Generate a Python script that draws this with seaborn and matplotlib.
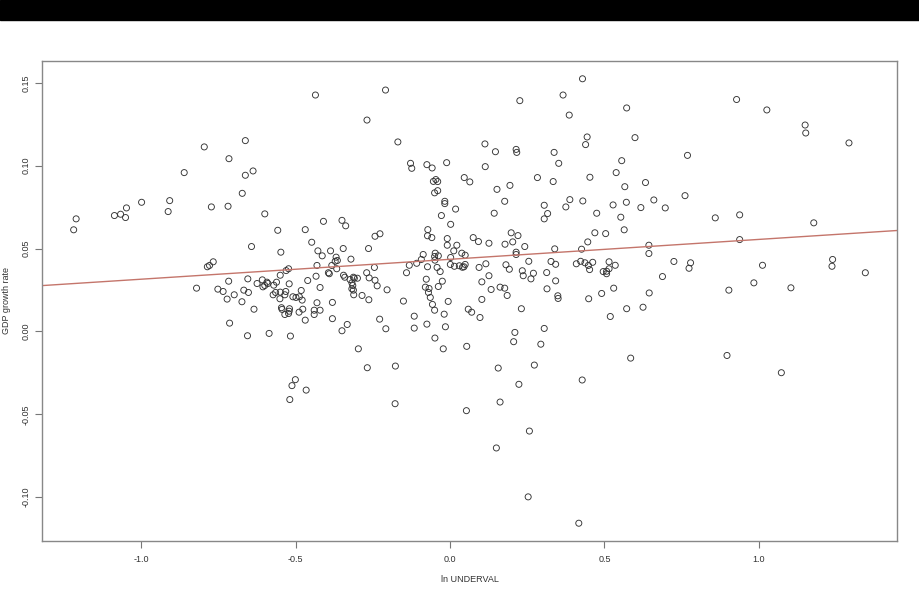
import numpy as np
import pandas as pd
import matplotlib
matplotlib.use("Agg")
import matplotlib.pyplot as plt
import seaborn as sns
from matplotlib.patches import Rectangle

# ln UNDERVAL / GDP growth rate
ln_underval = [
    -0.663, -0.796, -0.716, -0.663, -0.638, -0.861, -0.673, -0.999, -0.908, -1.048,
    -0.773, -0.719, -0.913, -1.087, -1.067, -1.051, -1.211, -1.219,
    -0.600, -0.410, -0.350, -0.338, -0.558, -0.469, -0.643, -0.548, -0.448, -0.428,
    -0.414, -0.387, -0.346, -0.264, -0.369, -0.365, -0.372, -0.321, -0.767, -0.779,
    -0.786, -0.431, -0.523, -0.531, -0.383, -0.367, -0.394, -0.391, -0.434, -0.550,
    -0.345, -0.341, -0.313, -0.310, -0.300, -0.324, -0.318, -0.315, -0.318, -0.313,
    -0.270, -0.262, -0.461, -0.655, -0.717, -0.608, -0.593, -0.590, -0.600, -0.606,
    -0.625, -0.562, -0.571, -0.521, -0.821, -0.752, -0.735, -0.668, -0.653, -0.699,
    -0.722, -0.674, -0.635, -0.573, -0.565, -0.550, -0.532, -0.535, -0.551, -0.509,
    -0.499, -0.488, -0.479, -0.482, -0.421, -0.431, -0.381, -0.312, -0.285, -0.263,
    -0.546, -0.544, -0.520, -0.521, -0.535, -0.523, -0.489, -0.477, -0.440, -0.421,
    -0.440, -0.469, -0.381, -0.333, -0.350, -0.714, -0.656, -0.586, -0.517, -0.297,
    -0.028, 0.018, 0.143, 0.316, 0.305, 0.002, -0.227, -0.243, -0.072, -0.073,
    -0.059, -0.009, -0.009, 0.022, 0.012, 0.075, 0.092, 0.126, 0.198, 0.220,
    0.178, 0.203, 0.242, 0.214, 0.214, 0.339, -0.087, -0.093, -0.048, -0.050,
    -0.038, -0.049, 0.038, 0.049, 0.002, -0.108, -0.132, -0.073, -0.042, -0.032,
    0.001, 0.014, 0.030, 0.040, 0.049, 0.045, 0.094, 0.116, 0.181, 0.192,
    0.255, 0.327, 0.342, 0.234, 0.237, 0.270, 0.262, 0.313, -0.245, -0.141,
    -0.243, -0.236, -0.204, -0.077, -0.025, -0.038, -0.080, -0.068, -0.070, -0.064,
    0.126, 0.103, 0.133, 0.162, 0.177, 0.185, 0.314, 0.342, 0.349, 0.350,
    -0.151, -0.006, 0.103, -0.057, -0.050, 0.059, 0.070, -0.019, 0.097, 0.231,
    -0.228, -0.116, -0.208, -0.116, -0.075, -0.015, 0.305, -0.049, -0.022, 0.054,
    0.210, 0.206, 0.294,
    -0.436, -0.209, -0.269, -0.169, 0.113, 0.114, -0.128, -0.124, -0.075, -0.058,
    -0.011, 0.046, 0.064, -0.054, -0.046, -0.040, -0.050, -0.040, -0.017, -0.017,
    0.429, 0.226, 0.366, 0.386, 0.572, 0.444, 0.439, 0.599, 0.147, 0.214,
    0.216, 0.337, 0.352, 0.769, 0.556, 0.538, 0.283, 0.334, 0.453, 0.194,
    0.152, 0.566, 0.633, 0.761, 0.177, 0.305, 0.388, 0.430, 0.375, 0.528,
    0.571, 0.660, 0.618, 0.697,
    0.475, 0.553, 0.564, 0.469, 0.504, 0.446, 0.426, 0.644, 0.644, 0.409,
    0.423, 0.437, 0.448, 0.452, 0.462, 0.515, 0.535, 0.515, 0.507, 0.496,
    0.507, 0.725, 0.779, 0.774, 0.688, 0.530, 0.491, 0.645, 0.449, 0.572,
    0.625, 0.519,
    0.928, 1.026, 1.150, 1.152, 1.292, 0.859, 0.938, 1.178, 0.938, 1.012,
    1.239, 1.237, 1.345, 0.984, 1.104, 0.903, 0.897, 1.073,
    -0.268, -0.177, -0.501, -0.512, -0.466, -0.519, -0.178, 0.053, 0.156, 0.273,
    0.223, 0.428, 0.585, 0.162, 0.257, 0.150, 0.253, 0.417,
]
gdp_growth = [
    0.1151, 0.1113, 0.1042, 0.0942, 0.0968, 0.0958, 0.0833, 0.0779, 0.0789, 0.0745,
    0.0751, 0.0755, 0.0723, 0.0699, 0.0707, 0.0687, 0.0679, 0.0613,
    0.0709, 0.0664, 0.0670, 0.0637, 0.0610, 0.0614, 0.0512, 0.0478, 0.0538, 0.0486,
    0.0456, 0.0486, 0.0500, 0.0500, 0.0448, 0.0428, 0.0423, 0.0436, 0.0420, 0.0398,
    0.0390, 0.0398, 0.0378, 0.0367, 0.0398, 0.0378, 0.0354, 0.0348, 0.0333, 0.0339,
    0.0339, 0.0327, 0.0327, 0.0321, 0.0321, 0.0313, 0.0293, 0.0277, 0.0257, 0.0249,
    0.0354, 0.0323, 0.0307, 0.0317, 0.0303, 0.0311, 0.0297, 0.0289, 0.0277, 0.0269,
    0.0289, 0.0297, 0.0279, 0.0287, 0.0261, 0.0255, 0.0241, 0.0249, 0.0235, 0.0221,
    0.0195, 0.0179, 0.0134, 0.0221, 0.0235, 0.0237, 0.0241, 0.0221, 0.0197, 0.0209,
    0.0205, 0.0209, 0.0189, 0.0247, 0.0265, 0.0173, 0.0175, 0.0221, 0.0217, 0.0191,
    0.0143, 0.0133, 0.0137, 0.0122, 0.0102, 0.0108, 0.0116, 0.0134, 0.0128, 0.0128,
    0.0102, 0.0068, 0.0077, 0.0042, 0.0004, 0.0050, -0.0026, -0.0012, -0.0028, -0.0105,
    0.0699, 0.0738, 0.0713, 0.0711, 0.0679, 0.0646, 0.0589, 0.0574, 0.0614, 0.0577,
    0.0566, 0.0560, 0.0520, 0.0520, 0.0486, 0.0566, 0.0542, 0.0532, 0.0595, 0.0578,
    0.0526, 0.0540, 0.0512, 0.0478, 0.0464, 0.0498, 0.0464, 0.0434, 0.0472, 0.0452,
    0.0456, 0.0430, 0.0472, 0.0460, 0.0446, 0.0411, 0.0399, 0.0390, 0.0386, 0.0361,
    0.0404, 0.0393, 0.0396, 0.0387, 0.0404, 0.0390, 0.0386, 0.0408, 0.0402, 0.0375,
    0.0423, 0.0422, 0.0405, 0.0366, 0.0336, 0.0351, 0.0317, 0.0355, 0.0386, 0.0354,
    0.0309, 0.0275, 0.0251, 0.0315, 0.0303, 0.0271, 0.0267, 0.0259, 0.0235, 0.0205,
    0.0336, 0.0299, 0.0253, 0.0267, 0.0261, 0.0217, 0.0257, 0.0305, 0.0215, 0.0199,
    0.0183, 0.0181, 0.0193, 0.0163, 0.0128, 0.0134, 0.0116, 0.0104, 0.0084, 0.0137,
    0.0074, 0.0092, 0.0016, 0.0020, 0.0044, 0.0028, 0.0018, -0.0040, -0.0105, -0.0090,
    -0.0006, -0.0062, -0.0077,
    0.1426, 0.1456, 0.1275, 0.1143, 0.1131, 0.0994, 0.1014, 0.0984, 0.1006, 0.0986,
    0.1018, 0.0928, 0.0902, 0.0905, 0.0916, 0.0904, 0.0836, 0.0849, 0.0785, 0.0771,
    0.1524, 0.1392, 0.1426, 0.1305, 0.1348, 0.1173, 0.1127, 0.1169, 0.1084, 0.1098,
    0.1080, 0.1080, 0.1014, 0.1062, 0.1030, 0.0958, 0.0928, 0.0904, 0.0930, 0.0881,
    0.0857, 0.0873, 0.0898, 0.0819, 0.0785, 0.0761, 0.0795, 0.0787, 0.0751, 0.0763,
    0.0779, 0.0793, 0.0747, 0.0745,
    0.0713, 0.0689, 0.0613, 0.0595, 0.0590, 0.0540, 0.0496, 0.0520, 0.0470, 0.0408,
    0.0423, 0.0414, 0.0398, 0.0373, 0.0417, 0.0420, 0.0399, 0.0378, 0.0363, 0.0361,
    0.0348, 0.0422, 0.0414, 0.0381, 0.0331, 0.0261, 0.0229, 0.0232, 0.0197, 0.0137,
    0.0146, 0.0090,
    0.1399, 0.1336, 0.1245, 0.1197, 0.1137, 0.0685, 0.0703, 0.0655, 0.0554, 0.0399,
    0.0434, 0.0393, 0.0354, 0.0293, 0.0263, 0.0249, -0.0145, -0.0249,
    -0.0219, -0.0209, -0.0291, -0.0327, -0.0354, -0.0411, -0.0436, -0.0478, -0.0221, -0.0203,
    -0.0319, -0.0293, -0.0161, -0.0426, -0.0601, -0.0703, -0.0998, -0.1157,
]

# fitted line (abline)
fit_intercept = 0.0435
fit_slope = 0.012

xticks = [-1.0, -0.5, 0.0, 0.5, 1.0]
yticks = [-0.10, -0.05, 0.00, 0.05, 0.10, 0.15]

df = pd.DataFrame({"ln_underval": ln_underval, "gdp_growth": gdp_growth})

sns.set_style("white")
plt.rcParams["font.family"] = ["Liberation Sans", "DejaVu Sans"]

fig = plt.figure(figsize=(9.19, 5.94), dpi=100)
fig.add_artist(Rectangle((0, 1 - 20 / 594), 1, 20 / 594, transform=fig.transFigure,
                         color="black", zorder=0))
ax = fig.add_axes([42 / 919, 53 / 594, 855 / 919, 480 / 594])

sns.scatterplot(data=df, x="ln_underval", y="gdp_growth", ax=ax,
                marker="o", s=19, facecolor="none", edgecolor="#333333",
                linewidth=0.65, legend=False)

# R-style 4% padding around the data
xr = df["ln_underval"].max() - df["ln_underval"].min()
yr = df["gdp_growth"].max() - df["gdp_growth"].min()
ax.set_xlim(df["ln_underval"].min() - 0.04 * xr, df["ln_underval"].max() + 0.04 * xr)
ax.set_ylim(df["gdp_growth"].min() - 0.04 * yr, df["gdp_growth"].max() + 0.04 * yr)

ax.axline((0, fit_intercept), slope=fit_slope, color="#c4756b", lw=1.0, zorder=1)

ax.set_xticks(xticks)
ax.set_xticklabels([f"{v:.1f}" for v in xticks])
ax.set_yticks(yticks)
ax.set_yticklabels([f"{v:.2f}" for v in yticks], rotation=90, va="center")
ax.tick_params(axis="both", direction="out", length=5, width=0.8, color="#777",
               labelsize=6.5, labelcolor="#333", bottom=True, left=True)
ax.tick_params(axis="x", pad=5)
ax.tick_params(axis="y", pad=3)

for s in ax.spines.values():
    s.set_color("#888")
    s.set_linewidth(1.0)

ax.set_xlabel("ln UNDERVAL", fontsize=6.5, color="#333", labelpad=8)
ax.set_ylabel("GDP growth rate", fontsize=6.5, color="#333", labelpad=8)

fig.savefig("out.png", dpi=100, facecolor="white")
